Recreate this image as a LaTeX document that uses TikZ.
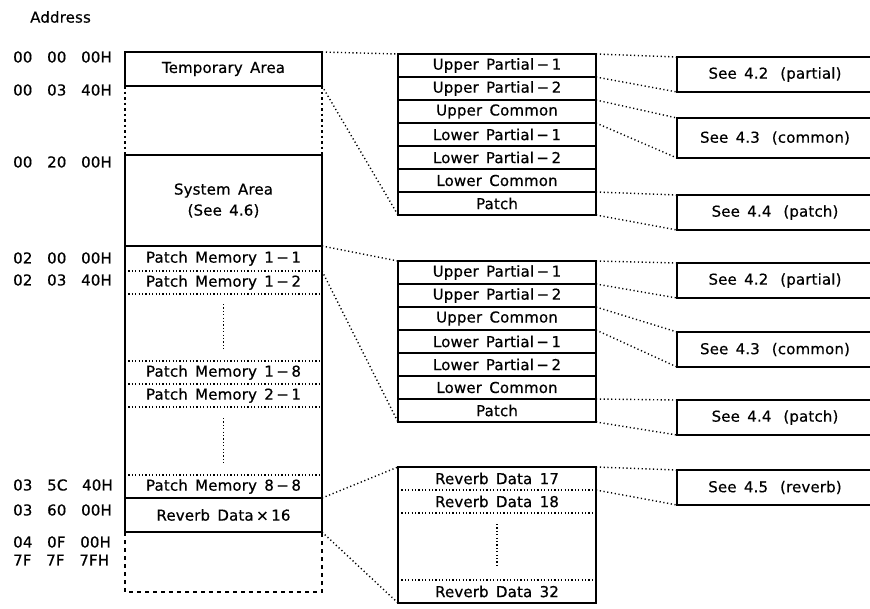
\documentclass[tikz,border=0pt]{standalone}
\usepackage{fontspec}
\setmainfont{DejaVu Sans}[WordSpace=1.5, LetterSpace=1, FakeBold=0.5]
\usepackage{tikz}
\usetikzlibrary{positioning, calc}

\begin{document}
\begin{tikzpicture}[
    x=1pt, y=-1pt,
    font=\fontsize{15}{18}\selectfont,
    area/.style     = {draw, line width=1.7pt, minimum width=197pt, inner sep=0pt, outer sep=0pt, anchor=north west},
    slot/.style     = {minimum width=197pt, inner sep=0pt, outer sep=0pt, anchor=north west},
    partrow/.style  = {draw, line width=1.7pt, minimum width=198pt, minimum height=23pt, inner sep=0pt, outer sep=0pt, anchor=north west},
    datarow/.style  = {minimum width=198pt, minimum height=23pt, inner sep=0pt, outer sep=0pt, anchor=north west},
    seebox/.style   = {draw, line width=1.7pt, minimum width=196pt, minimum height=35pt, inner sep=0pt, outer sep=0pt, anchor=north west},
    addr/.style     = {anchor=west, inner sep=0pt},
    memframe/.style = {line width=1.7pt},
    link/.style     = {line width=1.4pt, dash pattern=on 1.2pt off 2.6pt},
    divider/.style  = {line width=1.2pt, dash pattern=on 1.2pt off 2.2pt},
    gapline/.style  = {line width=1.7pt, dash pattern=on 2.5pt off 3pt},
    tailline/.style = {line width=1.6pt, dash pattern=on 4pt off 4pt}
]
    \useasboundingbox (0,0) rectangle (870,608);
    \clip (0,0) rectangle (870,608);

    % address column
    \node[addr] (addrhead) at (30,17) {Address};
    \node[addr] (a0) at (13,57)  {00~~00~~00H};
    \node[addr] (a1) at (13,90)  {00~~03~~40H};
    \node[addr] (a2) at (13,162) {00~~20~~00H};
    \node[addr] (a3) at (13,258) {02~~00~~00H};
    \node[addr] (a4) at (13,280) {02~~03~~40H};
    \node[addr] (a5) at (13,485) {03~~5C~~40H};
    \node[addr] (a6) at (13,510) {03~~60~~00H};
    \node[addr] (a7) at (13,542) {04~~0F~~00H};
    \node[addr] (a8) at (13,560) {7F~~7F~~7FH};

    % memory map
    \node[area, minimum height=34pt] (tmp) at (125,52) {Temporary Area};
    \node[area, minimum height=91pt, align=center, font=\fontsize{15}{21}\selectfont] (sys) at (125,155) {System Area\\(See 4.6)};
    \node[slot, minimum height=25pt] (pm11) at (125,246) {Patch Memory 1\,−\,1};
    \node[slot, minimum height=23pt] (pm12) at (125,271) {Patch Memory 1\,−\,2};
    \node[slot, minimum height=23pt] (pm18) at (125,361) {Patch Memory 1\,−\,8};
    \node[slot, minimum height=23pt] (pm21) at (125,384) {Patch Memory 2\,−\,1};
    \node[slot, minimum height=23pt] (pm88) at (125,475) {Patch Memory 8\,−\,8};
    \node[area, minimum height=34pt] (rev16) at (125,498) {Reverb Data\,×\,16};

    \draw[gapline] (tmp.south west) -- (sys.north west);
    \draw[gapline] (tmp.south east) -- (sys.north east);
    \draw[memframe] (sys.south west) -- (rev16.north west);
    \draw[memframe] (sys.south east) -- (rev16.north east);
    \draw[divider] (pm11.south west) -- (pm11.south east);
    \draw[divider] (pm12.south west) -- (pm12.south east);
    \draw[divider] (pm18.north west) -- (pm18.north east);
    \draw[divider] (pm18.south west) -- (pm18.south east);
    \draw[divider] (pm21.south west) -- (pm21.south east);
    \draw[divider] (pm88.north west) -- (pm88.north east);
    \draw[divider] ($(pm12.south)+(0,10)$) -- ($(pm18.north)+(0,-11)$);
    \draw[divider] ($(pm21.south)+(0,11)$) -- ($(pm88.north)+(0,-12)$);
    \coordinate (memend) at (125,592);
    \draw[tailline] (rev16.south west) -- (memend) -| (rev16.south east);

    % temporary area
    \node[partrow] (ma1) at (398,54)  {Upper Partial\,−\,1};
    \node[partrow] (ma2) at (398,77)  {Upper Partial\,−\,2};
    \node[partrow] (ma3) at (398,100) {Upper Common};
    \node[partrow] (ma4) at (398,123) {Lower Partial\,−\,1};
    \node[partrow] (ma5) at (398,146) {Lower Partial\,−\,2};
    \node[partrow] (ma6) at (398,169) {Lower Common};
    \node[partrow] (ma7) at (398,192) {Patch};

    % patch memory
    \node[partrow] (mb1) at (398,261) {Upper Partial\,−\,1};
    \node[partrow] (mb2) at (398,284) {Upper Partial\,−\,2};
    \node[partrow] (mb3) at (398,307) {Upper Common};
    \node[partrow] (mb4) at (398,330) {Lower Partial\,−\,1};
    \node[partrow] (mb5) at (398,353) {Lower Partial\,−\,2};
    \node[partrow] (mb6) at (398,376) {Lower Common};
    \node[partrow] (mb7) at (398,399) {Patch};

    % reverb data
    \node[datarow] (rd17) at (398,467) {Reverb Data 17};
    \node[datarow] (rd18) at (398,490) {Reverb Data 18};
    \node[datarow] (rd32) at (398,580) {Reverb Data 32};
    \draw[memframe] (rd17.north west) rectangle (rd32.south east);
    \draw[divider] (rd17.south west) -- (rd17.south east);
    \draw[divider] (rd18.south west) -- (rd18.south east);
    \draw[divider] (rd32.north west) -- (rd32.north east);
    \draw[divider] ($(rd18.south)+(0,11)$) -- ($(rd32.north)+(0,-13)$);

    % references
    \node[seebox] (see1) at (677,57)  {See 4.2\hspace{12pt}(partial)};
    \node[seebox, minimum height=40pt] (see2) at (677,118) {See 4.3\hspace{12pt}(common)};
    \node[seebox] (see3) at (677,195) {See 4.4\hspace{12pt}(patch)};
    \node[seebox] (see4) at (677,263) {See 4.2\hspace{12pt}(partial)};
    \node[seebox] (see5) at (677,332) {See 4.3\hspace{12pt}(common)};
    \node[seebox] (see6) at (677,400) {See 4.4\hspace{12pt}(patch)};
    \node[seebox] (see7) at (677,470) {See 4.5\hspace{12pt}(reverb)};

    % expansion lines
    \draw[link] (tmp.north east) -- (ma1.north west);
    \draw[link] (tmp.south east) -- (ma7.south west);
    \draw[link] (pm11.north east) -- (mb1.north west);
    \draw[link] (pm11.south east) -- (mb7.south west);
    \draw[link] (rev16.north east) -- (rd17.north west);
    \draw[link] (rev16.south east) -- (rd32.south west);

    \draw[link] (ma1.north east) -- (see1.north west);
    \draw[link] (ma1.south east) -- (see1.south west);
    \draw[link] (ma3.north east) -- (see2.north west);
    \draw[link] (ma3.south east) -- (see2.south west);
    \draw[link] (ma7.north east) -- (see3.north west);
    \draw[link] (ma7.south east) -- (see3.south west);

    \draw[link] (mb1.north east) -- (see4.north west);
    \draw[link] (mb1.south east) -- (see4.south west);
    \draw[link] (mb3.north east) -- (see5.north west);
    \draw[link] (mb3.south east) -- (see5.south west);
    \draw[link] (mb7.north east) -- (see6.north west);
    \draw[link] (mb7.south east) -- (see6.south west);

    \draw[link] (rd17.north east) -- (see7.north west);
    \draw[link] (rd17.south east) -- (see7.south west);
\end{tikzpicture}
\end{document}
